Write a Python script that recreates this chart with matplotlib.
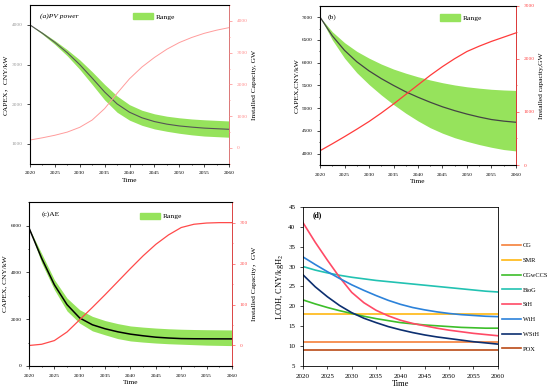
import matplotlib
matplotlib.use("Agg")
import matplotlib.pyplot as plt
from matplotlib.patches import Patch
from matplotlib.ticker import MultipleLocator

plt.rcParams['font.family'] = ['Liberation Serif', 'Noto Sans CJK SC']
plt.rcParams['mathtext.fontset'] = 'stix'

# ---- data ----
years = [2020, 2022.5, 2025, 2027.5, 2030, 2032.5, 2035, 2037.5, 2040,
         2042.5, 2045, 2047.5, 2050, 2052.5, 2055, 2057.5, 2060]

# (a) PV power
pv_capex = [4000, 3790, 3560, 3300, 3000, 2660, 2310, 2010, 1800,
            1660, 1565, 1500, 1455, 1425, 1400, 1385, 1370]
pv_upper = [4000, 3815, 3605, 3375, 3120, 2820, 2500, 2210, 1990,
            1850, 1760, 1700, 1660, 1630, 1610, 1595, 1580]
pv_lower = [4000, 3765, 3510, 3220, 2880, 2500, 2110, 1800, 1600,
            1470, 1380, 1320, 1270, 1230, 1200, 1185, 1170]
pv_cap = [250, 320, 400, 500, 650, 880, 1240, 1720, 2180,
          2550, 2850, 3110, 3320, 3480, 3610, 3710, 3790]

# (b)
b_capex = [7000, 6590, 6270, 6020, 5820, 5650, 5500, 5360, 5240,
           5130, 5030, 4945, 4870, 4805, 4750, 4715, 4690]
b_upper = [7000, 6680, 6440, 6250, 6100, 5970, 5860, 5770, 5690,
           5620, 5560, 5510, 5470, 5440, 5415, 5400, 5390]
b_lower = [7000, 6500, 6100, 5780, 5520, 5290, 5080, 4890, 4720,
           4570, 4450, 4350, 4270, 4200, 4140, 4090, 4060]
b_cap = [270, 400, 535, 675, 820, 980, 1150, 1330, 1510,
         1690, 1855, 2005, 2140, 2240, 2330, 2410, 2490]

# (c) AE
ae_capex = [5900, 4600, 3470, 2620, 2050, 1760, 1590, 1460, 1360,
            1290, 1230, 1195, 1170, 1163, 1160, 1158, 1157]
ae_upper = [5900, 4800, 3690, 2900, 2400, 2120, 1940, 1810, 1710,
            1660, 1620, 1590, 1570, 1558, 1550, 1545, 1540]
ae_lower = [5900, 4400, 3260, 2350, 1830, 1500, 1330, 1170, 1070,
            1020, 980, 950, 930, 910, 890, 880, 870]
ae_cap = [0, 3, 12, 33, 63, 93, 124, 156, 188,
          219, 247, 270, 288, 296, 299, 300, 300]

# (d) LCOH
lcoh_names = ['CG', 'SMR', 'CGwCCS', 'BioG', 'StH', 'WiH', 'WStH', 'POX']
lcoh_colors = ['#F5803A', '#FFB812', '#3DBE2A', '#22C2B2',
               '#FF4A66', '#2C82DA', '#0C2F70', '#BA4A16']
cg = [11.0] * 17
smr = [18.0] * 17
cgwccs = [21.6, 20.6, 19.7, 18.9, 18.2, 17.5, 16.9, 16.4, 15.9,
          15.6, 15.3, 15.1, 14.9, 14.7, 14.6, 14.5, 14.5]
biog = [30.0, 29.1, 28.4, 27.8, 27.3, 26.9, 26.5, 26.2, 25.9,
        25.6, 25.3, 25.0, 24.7, 24.4, 24.1, 23.8, 23.6]
sth = [41.0, 36.1, 31.6, 27.3, 23.5, 20.9, 19.0, 17.6, 16.5,
       15.7, 15.1, 14.5, 14.0, 13.6, 13.2, 12.9, 12.6]
wih = [32.4, 30.5, 28.7, 27.0, 25.4, 24.0, 22.7, 21.5, 20.5,
       19.7, 19.1, 18.6, 18.2, 17.9, 17.7, 17.5, 17.4]
wsth = [27.9, 24.9, 22.4, 20.2, 18.4, 17.0, 15.9, 14.9, 14.1,
        13.4, 12.8, 12.3, 11.9, 11.5, 11.1, 10.8, 10.5]
pox = [9.0] * 17
lcoh_series = [cg, smr, cgwccs, biog, sth, wih, wsth, pox]

xticks = [2020, 2025, 2030, 2035, 2040, 2045, 2050, 2055, 2060]
band_color = '#96E35C'

fig = plt.figure(figsize=(5.5, 3.91), dpi=100)

small = 3.9
lab = 5.4


def style_axis(ax, tick_size, left_color='black'):
    ax.set_xlim(2020, 2060)
    ax.set_xticks(xticks)
    ax.xaxis.set_minor_locator(MultipleLocator(2.5))
    ax.tick_params(which='both', direction='out', labelsize=tick_size, width=0.5)
    ax.tick_params(which='major', length=2)
    ax.tick_params(which='minor', length=1)
    ax.tick_params(axis='y', labelcolor=left_color)
    for s in ax.spines.values():
        s.set_linewidth(0.6)
    ax.set_xlabel('Time', fontsize=lab, labelpad=2)


def cap_axis(ax, color, ylim, major, minor, label):
    ax2 = ax.twinx()
    ax2.set_ylim(*ylim)
    ax2.yaxis.set_major_locator(MultipleLocator(major))
    ax2.yaxis.set_minor_locator(MultipleLocator(minor))
    ax2.spines['right'].set_color(color)
    ax2.spines['right'].set_linewidth(0.6)
    ax2.tick_params(which='both', direction='out', labelsize=small, colors=color, width=0.5)
    ax2.tick_params(which='major', length=2)
    ax2.tick_params(which='minor', length=1)
    ax2.set_ylabel(label, fontsize=lab, labelpad=3)
    return ax2


def range_legend(ax, anchor):
    ax.legend(handles=[Patch(color=band_color, label='Range')], loc='center left',
              bbox_to_anchor=anchor, frameon=False, fontsize=lab,
              handlelength=2.6, handleheight=0.9, handletextpad=0.4, borderpad=0)


# ---- (a) ----
ax = fig.add_axes([0.0545, 0.581, 0.362, 0.406])
ax.fill_between(years, pv_lower, pv_upper, color=band_color, lw=0)
ax.plot(years, pv_capex, color='#555555', lw=0.8)
ax.set_ylim(500, 4500)
ax.yaxis.set_major_locator(MultipleLocator(1000))
style_axis(ax, small, left_color='#999999')
ax.set_ylabel('CAPEX，CNY/kW', fontsize=lab, labelpad=2)
ax.text(0.05, 0.93, '(a)PV power', transform=ax.transAxes, fontsize=lab, style='italic', va='center')
range_legend(ax, (0.5, 0.93))
ax2 = cap_axis(ax, '#FF8A8A', (-500, 4500), 1000, 500, 'Installed Capacity, GW')
ax2.plot(years, pv_cap, color='#FF9C9C', lw=0.7)

# ---- (b) ----
ax = fig.add_axes([0.582, 0.578, 0.356, 0.407])
ax.fill_between(years, b_lower, b_upper, color=band_color, lw=0)
ax.plot(years, b_capex, color='#444444', lw=0.9)
ax.set_ylim(3750, 7250)
ax.yaxis.set_major_locator(MultipleLocator(500))
ax.yaxis.set_minor_locator(MultipleLocator(250))
style_axis(ax, small)
ax.set_ylabel('CAPEX,CNY/kW', fontsize=lab, labelpad=2)
ax.text(0.04, 0.93, '(b)', transform=ax.transAxes, fontsize=lab, va='center')
range_legend(ax, (0.595, 0.925))
ax2 = cap_axis(ax, '#FF4040', (0, 3000), 1000, 500, 'Installed capacity,GW')
ax2.plot(years, b_cap, color='#FF3B3B', lw=0.9)

# ---- (c) ----
ax = fig.add_axes([0.0527, 0.064, 0.369, 0.419])
ax.fill_between(years, ae_lower, ae_upper, color=band_color, lw=0)
ax.plot(years, ae_capex, color='black', lw=1.1)
ax.set_ylim(0, 7000)
ax.yaxis.set_major_locator(MultipleLocator(2000))
ax.yaxis.set_minor_locator(MultipleLocator(1000))
style_axis(ax, small)
ax.set_ylabel('CAPEX, CNY/kW', fontsize=lab, labelpad=2)
ax.text(0.06, 0.93, '(c)AE', transform=ax.transAxes, fontsize=lab, va='center')
range_legend(ax, (0.53, 0.915))
ax2 = cap_axis(ax, '#FF5050', (-50, 350), 100, 50, 'Installed Capacity，GW')
ax2.plot(years, ae_cap, color='#FF4A4A', lw=0.9)

# ---- (d) ----
ax = fig.add_axes([0.551, 0.064, 0.354, 0.407])
for name, color, vals in zip(lcoh_names, lcoh_colors, lcoh_series):
    ax.plot(years, vals, color=color, lw=1.2, label=name)
ax.set_ylim(5, 45)
ax.yaxis.set_major_locator(MultipleLocator(5))
style_axis(ax, 5.0)
ax.xaxis.set_minor_locator(MultipleLocator(5))
ax.set_xlabel('Time', fontsize=6, labelpad=1)
ax.set_ylabel('LCOH, CNY/kgH$_2$', fontsize=6, labelpad=2)
ax.text(0.05, 0.945, '(d)', transform=ax.transAxes, fontsize=5.5, va='center', weight='bold')
ax.legend(loc='upper left', bbox_to_anchor=(502 / 550, 1 - 243 / 391),
          bbox_transform=fig.transFigure, frameon=False, fontsize=4.6,
          handlelength=3.0, handletextpad=0.3, labelspacing=1.45, borderpad=0,
          borderaxespad=0)

fig.savefig('out.png', dpi=100)
